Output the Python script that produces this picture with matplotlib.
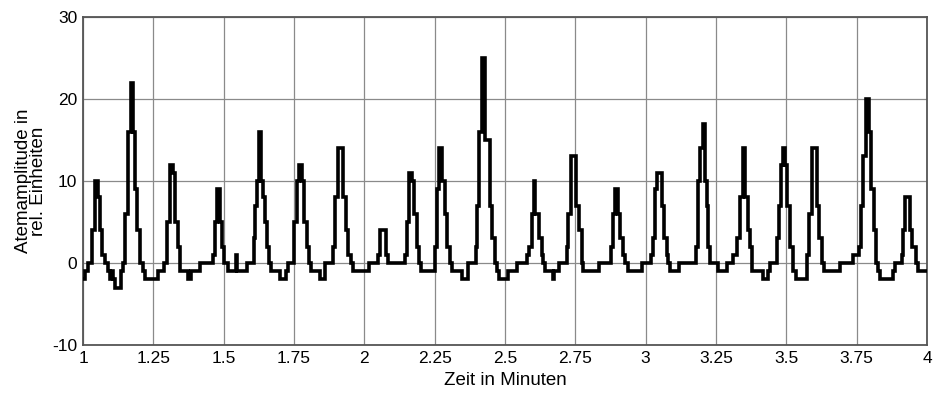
import matplotlib
matplotlib.use("Agg")
import matplotlib.pyplot as plt
import numpy as np

# level-change points of the breathing amplitude trace (time in minutes, value)
TIME = [
    1.000, 1.007, 1.019, 1.033, 1.043, 1.052, 1.060, 1.069, 1.078, 1.088,
    1.096, 1.102, 1.108, 1.114, 1.134, 1.141, 1.149, 1.159, 1.170, 1.179,
    1.185, 1.193, 1.203, 1.212, 1.220, 1.268, 1.289, 1.300, 1.309, 1.319,
    1.327, 1.337, 1.345, 1.374, 1.383, 1.416, 1.461, 1.469, 1.477, 1.487,
    1.494, 1.501, 1.517, 1.544, 1.547, 1.582, 1.608, 1.613, 1.620, 1.627,
    1.632, 1.639, 1.647, 1.655, 1.662, 1.668, 1.700, 1.721, 1.728, 1.750,
    1.760, 1.767, 1.777, 1.786, 1.795, 1.803, 1.809, 1.843, 1.860, 1.888,
    1.896, 1.908, 1.925, 1.935, 1.943, 1.952, 1.959, 2.018, 2.050, 2.056,
    2.076, 2.085, 2.145, 2.151, 2.159, 2.170, 2.177, 2.186, 2.194, 2.202,
    2.251, 2.257, 2.264, 2.276, 2.287, 2.294, 2.305, 2.311, 2.346, 2.370,
    2.397, 2.402, 2.409, 2.417, 2.429, 2.447, 2.455, 2.465, 2.471, 2.480,
    2.512, 2.544, 2.580, 2.587, 2.595, 2.602, 2.607, 2.621, 2.631, 2.635,
    2.642, 2.670, 2.674, 2.692, 2.720, 2.725, 2.735, 2.753, 2.764, 2.773,
    2.779, 2.834, 2.877, 2.883, 2.891, 2.903, 2.909, 2.919, 2.927, 2.936,
    2.986, 3.019, 3.027, 3.033, 3.042, 3.057, 3.065, 3.075, 3.081, 3.087,
    3.119, 3.179, 3.187, 3.193, 3.204, 3.211, 3.217, 3.223, 3.229, 3.258,
    3.288, 3.310, 3.324, 3.336, 3.345, 3.353, 3.363, 3.371, 3.377, 3.416,
    3.436, 3.442, 3.466, 3.474, 3.481, 3.487, 3.496, 3.502, 3.513, 3.525,
    3.535, 3.573, 3.582, 3.591, 3.608, 3.618, 3.626, 3.634, 3.691, 3.736,
    3.760, 3.766, 3.774, 3.782, 3.794, 3.800, 3.810, 3.819, 3.825, 3.833,
    3.878, 3.887, 3.910, 3.916, 3.922, 3.940, 3.946, 3.961, 3.969, 4.000,
]
AMPLITUDE = [
    -2, -1, 0, 4, 10, 8, 4, 1, 0, -1,
    -2, -1, -2, -3, -1, 0, 6, 16, 22, 16,
    9, 4, 0, -1, -2, -1, 0, 5, 12, 11,
    5, 2, -1, -2, -1, 0, 1, 5, 9, 5,
    2, 0, -1, 1, -1, 0, 3, 7, 10, 16,
    10, 8, 5, 2, 0, -1, -2, -1, 0, 5,
    10, 12, 10, 5, 2, 0, -1, -2, 0, 2,
    8, 14, 8, 4, 1, 0, -1, 0, 1, 4,
    1, 0, 1, 5, 11, 10, 6, 2, 0, -1,
    2, 9, 14, 10, 6, 2, 0, -1, -2, 0,
    2, 7, 16, 25, 15, 7, 3, 0, -1, -2,
    -1, 0, 1, 2, 6, 10, 6, 3, 1, 0,
    -1, -2, -1, 0, 2, 6, 13, 7, 4, 0,
    -1, 0, 2, 6, 9, 6, 3, 1, 0, -1,
    0, 1, 3, 9, 11, 7, 3, 1, 0, -1,
    0, 2, 10, 14, 17, 10, 7, 2, 0, -1,
    0, 1, 3, 8, 14, 8, 4, 2, -1, -2,
    -1, 0, 3, 7, 12, 14, 12, 7, 2, -1,
    -2, 1, 6, 14, 7, 3, 0, -1, 0, 1,
    2, 7, 13, 20, 16, 9, 4, 0, -1, -2,
    -1, 0, 1, 4, 8, 4, 2, 0, -1, -1,
]

X_TICKS = [1, 1.25, 1.5, 1.75, 2, 2.25, 2.5, 2.75, 3, 3.25, 3.5, 3.75, 4]
X_LABELS = ["1", "1.25", "1.5", "1.75", "2", "2.25", "2.5", "2.75", "3",
            "3.25", "3.5", "3.75", "4"]
Y_TICKS = [-10, 0, 10, 20, 30]

plt.rcParams["font.family"] = ["Liberation Sans", "DejaVu Sans"]
plt.rcParams["axes.unicode_minus"] = False

fig = plt.figure(figsize=(9.35, 3.94), dpi=100)
ax = fig.add_axes([0.0888, 0.1244, 0.9026, 0.8325])

ax.plot(TIME, AMPLITUDE, drawstyle="steps-post", color="black",
        linewidth=2.6, solid_joinstyle="miter", zorder=3)

ax.set_xlim(1, 4)
ax.set_ylim(-10, 30)
ax.set_xticks(X_TICKS)
ax.set_xticklabels(X_LABELS)
ax.set_yticks(Y_TICKS)
ax.tick_params(length=0, labelsize=12.5, pad=4)
ax.grid(True, color="#8a8a8a", linewidth=0.9)
for s in ax.spines.values():
    s.set_color("#555555")
    s.set_linewidth(1.3)

ax.set_xlabel("Zeit in Minuten", fontsize=13.5, labelpad=5)
ax.set_ylabel("Atemamplitude in\nrel. Einheiten", fontsize=13.5, labelpad=4,
              linespacing=0.85)

fig.savefig("out.png", dpi=100)
